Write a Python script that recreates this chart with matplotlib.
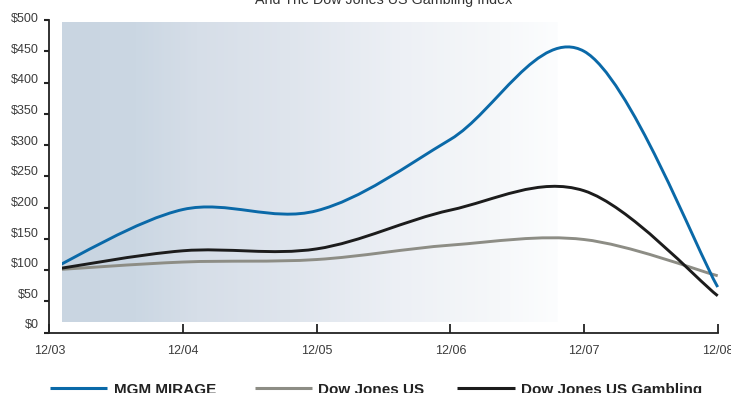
import numpy as np
import matplotlib
matplotlib.use("Agg")
import matplotlib.pyplot as plt
from matplotlib.path import Path
from matplotlib.patches import PathPatch, Rectangle
from matplotlib.lines import Line2D
import matplotlib.transforms as mtransforms
from matplotlib.colors import to_rgb

plt.rcParams['font.family'] = ['Liberation Sans', 'DejaVu Sans']

# ---- data ----
dates = ["12/03", "12/04", "12/05", "12/06", "12/07", "12/08"]
mgm = [100, 197, 195, 309, 450, 73]
dj_us = [100, 113, 117, 140, 149, 91]
dj_gambling = [100, 131, 134, 196, 227, 59]
series_names = ["MGM MIRAGE", "Dow Jones US", "Dow Jones US Gambling"]
series_colors = ["#0a69a8", "#8d8d85", "#1c1c1c"]
y_ticks = [0, 50, 100, 150, 200, 250, 300, 350, 400, 450, 500]
title = "And The Dow Jones US Gambling Index"

W, H, DPI = 731, 393, 100
fig = plt.figure(figsize=(W / DPI, H / DPI), dpi=DPI)
fig.patch.set_facecolor("white")

# axes placement (pixels -> fraction)
x0_px, x1_px = 49.3, 717.7
y0_px, y1_px = 332.7, 20.0
ax = fig.add_axes([x0_px / W, (H - y0_px) / H, (x1_px - x0_px) / W, (y0_px - y1_px) / H])
ax.set_facecolor("none")

xpos = np.arange(len(dates))
ax.set_xlim(xpos[0], xpos[-1])
ax.set_ylim(y_ticks[0], y_ticks[-1])

# ---- gradient background ----
gx0, gx1 = 0.095, 3.80
gy0, gy1 = 16.6, 495.7
stop_x = np.array([0.095, 0.65, 1.10, 1.80, 2.62, 3.37, 3.80])
stop_c = np.array([to_rgb(c) for c in
                   ["#c9d5e1", "#cbd7e3", "#d6dee8", "#dfe5ed", "#edf0f5", "#f6f8fa", "#fcfdfe"]])
gxs = np.linspace(gx0, gx1, 400)
grad = np.stack([np.interp(gxs, stop_x, stop_c[:, k]) for k in range(3)], axis=-1)[None, :, :]
ax.imshow(grad, extent=[gx0, gx1, gy0, gy1], aspect="auto", interpolation="bilinear",
          zorder=0, origin="lower")


# ---- smoothed lines (Catmull-Rom style bezier through the points) ----
def smooth_path(xs, ys):
    pts = np.column_stack([xs, ys]).astype(float)
    n = len(pts)
    verts = [pts[0]]
    codes = [Path.MOVETO]
    for i in range(n - 1):
        p0 = pts[i - 1] if i > 0 else pts[i]
        p1 = pts[i]
        p2 = pts[i + 1]
        p3 = pts[i + 2] if i + 2 < n else pts[i + 1]
        c1 = p1 + (p2 - p0) / 6.0
        c2 = p2 - (p3 - p1) / 6.0
        verts += [c1, c2, p2]
        codes += [Path.CURVE4] * 3
    return Path(verts, codes)


clip_rect = Rectangle((gx0, -100), 10, 800, transform=ax.transData, visible=False)
ax.add_patch(clip_rect)

for vals, col in [(dj_us, series_colors[1]), (dj_gambling, series_colors[2]), (mgm, series_colors[0])]:
    pp = PathPatch(smooth_path(xpos, vals), facecolor="none", edgecolor=col, lw=2.1,
                   capstyle="butt", joinstyle="round", zorder=3)
    ax.add_patch(pp)
    pp.set_clip_box(None)
    pp.set_clip_path(clip_rect)

# ---- spines & ticks ----
for s in ["top", "right"]:
    ax.spines[s].set_visible(False)
for s in ["left", "bottom"]:
    ax.spines[s].set_linewidth(1.3)
    ax.spines[s].set_color("#222222")

ax.set_xticks(xpos)
ax.set_xticklabels(dates)
ax.tick_params(axis="x", direction="in", length=6.5, width=1.3, color="#222222",
               pad=8.5, labelsize=9, labelcolor="#3c3c3c")
ax.set_yticks(y_ticks)
ax.set_yticklabels([])
ax.tick_params(axis="y", direction="out", length=3.6, width=1.5, color="#222222")

# y labels (slightly raised relative to their ticks, as in the reference)
for v in y_ticks:
    dy_px = 7.4 - 0.0134 * v
    tr = ax.get_yaxis_transform() + mtransforms.ScaledTranslation(-10.3 / DPI, dy_px / DPI, fig.dpi_scale_trans)
    ax.text(0, v, f"${v}", transform=tr, ha="right", va="center", fontsize=9, color="#3c3c3c")

# ---- title (cut at top) ----
fig.text(383.5 / W, 1 - 4 / H, title, ha="center", va="baseline", fontsize=10.3, color="#333333")

# ---- legend (manual, at bottom) ----
leg_y = 1 - 388.3 / H
leg_base = 1 - 393.8 / H
leg_entries = [(50, 107, 114), (255, 312, 318), (457, 515, 521)]
for (lx0, lx1, tx), name, col in zip(leg_entries, series_names, series_colors):
    fig.add_artist(Line2D([lx0 / W, lx1 / W], [leg_y, leg_y], color=col, lw=2.2,
                          transform=fig.transFigure, solid_capstyle="butt"))
    fig.text(tx / W, leg_base, name, ha="left", va="baseline", fontsize=11,
             fontweight="bold", color="#222222")

fig.savefig("out.png", dpi=DPI)
